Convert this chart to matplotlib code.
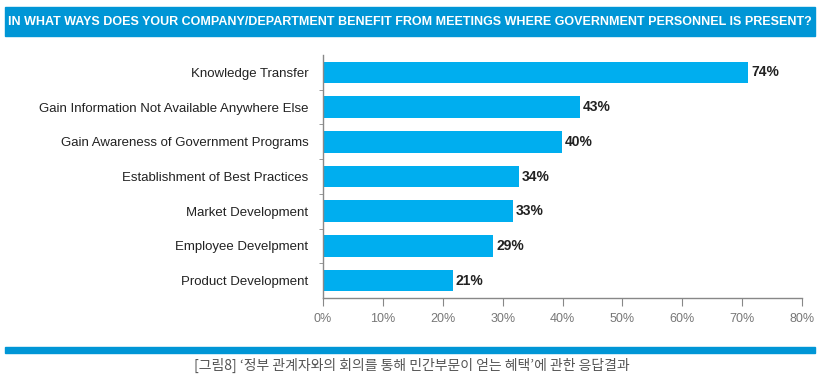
import matplotlib
matplotlib.use("Agg")
import matplotlib.pyplot as plt
from matplotlib.patches import Rectangle
from matplotlib.ticker import FixedLocator

# Data
categories = ["Knowledge Transfer", "Gain Information Not Available Anywhere Else",
              "Gain Awareness of Government Programs", "Establishment of Best Practices",
              "Market Development", "Employee Develpment", "Product Development"]
labels = [74, 43, 40, 34, 33, 29, 21]              # printed values
bar_len = [71.0, 42.9, 39.9, 32.7, 31.7, 28.4, 21.7]  # bar ends as drawn on the x scale
xticks = [0, 10, 20, 30, 40, 50, 60, 70, 80]

title = "IN WHAT WAYS DOES YOUR COMPANY/DEPARTMENT BENEFIT FROM MEETINGS WHERE GOVERNMENT PERSONNEL IS PRESENT?"
caption = "[그림8] ‘정부 관계자와의 회의를 통해 민간부문이 얻는 혜택’에 관한 응답결과"

sans = ["Liberation Sans", "DejaVu Sans"]

W, H = 822, 391
fig = plt.figure(figsize=(W / 100, H / 100), dpi=100)

# header band
fig.patches.append(Rectangle((5 / W, 1 - 36 / H), 810 / W, 29 / H,
                             transform=fig.transFigure, color="#0096d6", zorder=0))
t = fig.text(410 / W, 1 - 22 / H, title, color="white", fontsize=10, fontweight="bold",
             family=sans, ha="center", va="center")
# shrink title so it fits inside the band
r = fig.canvas.get_renderer()
tw = t.get_window_extent(r).width
t.set_fontsize(10 * 798 / tw)

# bottom rule + caption
fig.patches.append(Rectangle((5 / W, 1 - 352.5 / H), 810 / W, 5.5 / H,
                             transform=fig.transFigure, color="#0096d6", zorder=0))
fig.text(412 / W, 1 - 365 / H, caption, color="#555555", fontsize=10,
         family=["Noto Sans CJK KR", "DejaVu Sans"], ha="center", va="center")

ax = fig.add_axes([323 / W, 1 - 298 / H, 479 / W, 243 / H])
pos = list(range(len(categories)))
ax.barh(pos, bar_len, height=0.62, color="#00aeef")
for p, b, v in zip(pos, bar_len, labels):
    ax.text(b + 0.5, p, f"{v}%", va="center", ha="left", fontsize=10,
            fontweight="bold", family=sans, color="#222222")

ax.set_xlim(0, 80)
ax.set_ylim(len(categories) - 0.5, -0.5)
ax.set_xticks(xticks)
ax.set_xticklabels([f"{t}%" for t in xticks], family=sans, fontsize=9, color="#777777")
ax.set_yticks(pos)
ax.set_yticklabels(categories, family=sans, fontsize=9.5, color="#222222")
ax.yaxis.set_minor_locator(FixedLocator([p + 0.5 for p in pos[:-1]]))
ax.tick_params(axis="y", which="major", length=0, pad=10.5)
ax.tick_params(axis="y", which="minor", length=3, color="#888888")
ax.tick_params(axis="x", length=6, color="#888888", pad=5)
for s in ["top", "right"]:
    ax.spines[s].set_visible(False)
for s in ["left", "bottom"]:
    ax.spines[s].set_color("#888888")
    ax.spines[s].set_linewidth(1)

fig.savefig("out.png", dpi=100)
